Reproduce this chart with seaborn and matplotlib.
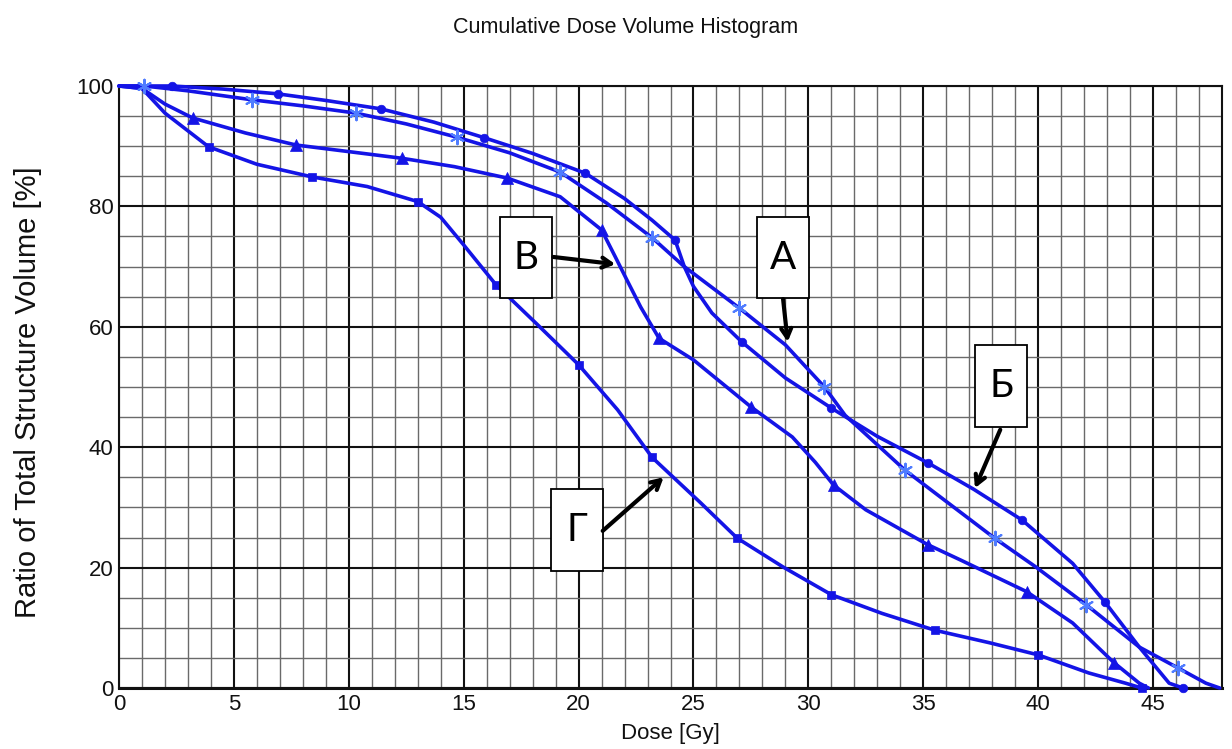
import numpy as np
import pandas as pd
import matplotlib
matplotlib.use("Agg")
import matplotlib.pyplot as plt
from matplotlib import font_manager
from matplotlib.patches import Rectangle
import seaborn as sns

# ---------------- data ----------------
title_text = "Cumulative Dose Volume Histogram"
xlabel_text = "Dose [Gy]"
ylabel_text = "Ratio of Total Structure Volume [%]"
x_ticks = [0, 5, 10, 15, 20, 25, 30, 35, 40, 45]
y_ticks = [0, 20, 40, 60, 80, 100]

# curve A (star markers)
a_dose = [0, 1.1, 3.0, 5.8, 8.0, 10.3, 12.5, 14.7, 17.0, 19.2, 21.2, 23.2, 24.6, 27.0, 29.0, 30.7,
          31.6, 34.2, 38.1, 39.9, 42.1, 44.4, 46.1, 47.3, 47.9]
a_vol = [100, 100, 99.2, 97.7, 96.7, 95.5, 93.7, 91.5, 88.9, 85.7, 80.6, 74.8, 70.0, 63.1, 57.0, 50.0,
         45.3, 36.2, 24.9, 20.1, 13.8, 6.8, 3.3, 0.8, 0]
a_mark_dose = [1.1, 5.8, 10.3, 14.7, 19.2, 23.2, 27.0, 30.7, 34.2, 38.1, 42.1, 46.1]
a_mark_vol = [100, 97.7, 95.5, 91.5, 85.7, 74.8, 63.1, 50.0, 36.2, 24.9, 13.8, 3.3]

# curve Б (dot markers)
b_dose = [0, 2.3, 4.5, 6.9, 9.0, 11.4, 13.7, 15.9, 18.0, 20.3, 22.0, 23.2, 24.2, 24.6, 25.0, 25.8,
          27.1, 29.0, 31.0, 33.0, 35.2, 37.2, 39.3, 41.5, 42.9, 44.4, 45.7, 46.3]
b_vol = [100, 100, 99.5, 98.7, 97.6, 96.2, 94.0, 91.4, 88.8, 85.5, 81.3, 77.7, 74.4, 70.0, 66.7, 62.3,
         57.5, 51.5, 46.5, 41.8, 37.4, 33.0, 27.9, 20.7, 14.3, 6.8, 0.8, 0]
b_mark_dose = [2.3, 6.9, 11.4, 15.9, 20.3, 24.2, 27.1, 31.0, 35.2, 39.3, 42.9, 46.3]
b_mark_vol = [100, 98.7, 96.2, 91.4, 85.5, 74.4, 57.5, 46.5, 37.4, 27.9, 14.3, 0]

# curve В (triangle markers)
v_dose = [0, 1.0, 2.0, 3.2, 5.5, 7.7, 10.0, 12.3, 14.6, 16.9, 19.2, 21.0, 21.6, 22.1, 22.7, 23.5,
          25.0, 27.5, 29.3, 30.3, 31.1, 32.5, 35.2, 36.6, 39.5, 41.5, 43.3, 44.4, 44.8]
v_vol = [100, 99.6, 97.0, 94.7, 92.2, 90.2, 89.1, 88.0, 86.6, 84.7, 81.6, 76.1, 71.6, 67.8, 63.3, 58.1,
         54.5, 46.7, 41.7, 37.5, 33.7, 29.6, 23.8, 21.3, 16.0, 10.8, 4.2, 0.8, 0]
v_mark_dose = [3.2, 7.7, 12.3, 16.9, 21.0, 23.5, 27.5, 31.1, 35.2, 39.5, 43.3]
v_mark_vol = [94.7, 90.2, 88.0, 84.7, 76.1, 58.1, 46.7, 33.7, 23.8, 16.0, 4.2]

# curve Г (square markers)
g_dose = [0, 1.0, 2.0, 3.9, 6.0, 8.4, 10.8, 13.0, 14.0, 15.0, 16.4, 18.2, 20.0, 21.7, 23.2, 25.3, 26.9,
          28.9, 31.0, 33.2, 35.5, 37.9, 40.0, 42.2, 43.8, 44.5]
g_vol = [100, 99.6, 95.5, 89.9, 87.0, 84.9, 83.3, 80.8, 78.2, 73.6, 67.0, 60.4, 53.7, 46.2, 38.3, 30.8, 24.9,
         20.1, 15.5, 12.4, 9.6, 7.5, 5.5, 2.5, 0.8, 0]
g_mark_dose = [3.9, 8.4, 13.0, 16.4, 20.0, 23.2, 26.9, 31.0, 35.5, 40.0, 44.5]
g_mark_vol = [89.9, 84.9, 80.8, 67.0, 53.7, 38.3, 24.9, 15.5, 9.6, 5.5, 0]

# annotation labels: letter, box centre (dose, volume), arrow start, arrow tip
labels = ["В", "А", "Б", "Г"]
label_box = [(17.71, 71.5), (28.9, 71.5), (38.4, 50.15), (19.95, 26.25)]
arrow_start = [(18.9, 71.6), (28.9, 64.6), (38.35, 42.9), (21.05, 26.1)]
arrow_tip = [(21.6, 70.4), (29.1, 57.5), (37.25, 33.2), (23.7, 35.0)]

# ---------------- style ----------------
sns.set_theme(style="white")
names = {f.name for f in font_manager.fontManager.ttflist}
narrow = "Liberation Sans Narrow" if "Liberation Sans Narrow" in names else "Liberation Sans"
tick_size = 18 if narrow == "Liberation Sans Narrow" else 16
plt.rcParams["font.family"] = ["Liberation Sans", "DejaVu Sans"]

BLUE = "#1414e6"
STAR = "#4f7cff"

fig = plt.figure(figsize=(12.32, 7.49), dpi=100)
ax = fig.add_axes([119 / 1232, 61 / 749, 1103 / 1232, 602 / 749])

ax.set_xlim(0, 48)
ax.set_ylim(0, 100)
ax.set_xticks(x_ticks)
ax.set_xticklabels([str(t) for t in x_ticks])
ax.set_yticks(y_ticks)
ax.set_yticklabels([str(t) for t in y_ticks])
ax.set_xticks(np.arange(0, 49, 1), minor=True)
ax.set_yticks(np.arange(0, 101, 5), minor=True)
ax.grid(which="major", color="#111111", linewidth=1.5)
ax.grid(which="minor", color="#6a6a6a", linewidth=1.0)
ax.set_axisbelow(True)
ax.tick_params(which="both", length=0, pad=4)
for lab in ax.get_xticklabels() + ax.get_yticklabels():
    lab.set_fontfamily(narrow)
    lab.set_fontsize(tick_size)
    lab.set_color("#111111")
for s in ax.spines.values():
    s.set_color("#111111")
    s.set_linewidth(1.5)
ax.spines["bottom"].set_linewidth(2.2)

curves = [
    (a_dose, a_vol, a_mark_dose, a_mark_vol, (6, 2, 0), 95, STAR),
    (b_dose, b_vol, b_mark_dose, b_mark_vol, "o", 38, BLUE),
    (v_dose, v_vol, v_mark_dose, v_mark_vol, "^", 75, BLUE),
    (g_dose, g_vol, g_mark_dose, g_mark_vol, "s", 34, BLUE),
]
for xd, yd, mx, my, mk, ms, mc in curves:
    df = pd.DataFrame({"dose": xd, "volume": yd})
    sns.lineplot(data=df, x="dose", y="volume", sort=False, estimator=None, color=BLUE,
                 linewidth=2.6, ax=ax, zorder=3, clip_on=False,
                 solid_joinstyle="round", solid_capstyle="round")
    dm = pd.DataFrame({"dose": mx, "volume": my})
    if mk == (6, 2, 0):
        sns.scatterplot(data=dm, x="dose", y="volume", marker=mk, s=ms, color=mc,
                        linewidth=1.5, ax=ax, zorder=4, clip_on=False)
    else:
        sns.scatterplot(data=dm, x="dose", y="volume", marker=mk, s=ms, color=BLUE,
                        edgecolor=BLUE, linewidth=0.5, ax=ax, zorder=4, clip_on=False)

ax.set_xlabel("")
ax.set_ylabel("")

# label boxes and arrows
bw, bh = 2.26, 13.5
for lab, (cx, cy), (sx, sy), (tx, ty) in zip(labels, label_box, arrow_start, arrow_tip):
    ax.add_patch(Rectangle((cx - bw / 2, cy - bh / 2), bw, bh, facecolor="white",
                           edgecolor="black", linewidth=1.3, zorder=6))
    ax.text(cx, cy, lab, ha="center", va="center", fontsize=28,
            family=["Lato", "DejaVu Sans"], color="black", zorder=7)
    ax.annotate("", xy=(tx, ty), xytext=(sx, sy), zorder=7,
                arrowprops=dict(arrowstyle="->,head_length=0.55,head_width=0.3",
                                color="black", lw=3, shrinkA=0, shrinkB=0))

fig.text(626 / 1232, 1 - 28 / 749, title_text, ha="center", va="center", fontsize=15.5,
         color="#111111")
fig.text(670 / 1232, 1 - 733 / 749, xlabel_text, ha="center", va="center",
         fontsize=tick_size, family=narrow, color="#111111")
fig.text(28 / 1232, 1 - 392 / 749, ylabel_text, ha="center", va="center", rotation=90,
         fontsize=21, color="#111111")

fig.savefig("out.png", dpi=100, facecolor="white")
